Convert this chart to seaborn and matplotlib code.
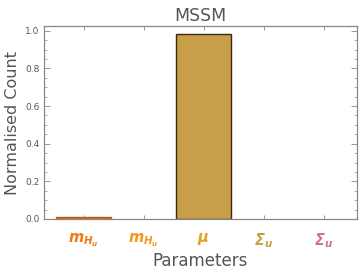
import matplotlib
matplotlib.use("Agg")
import matplotlib.pyplot as plt
import seaborn as sns
from matplotlib.ticker import MultipleLocator

sns.set_style("white")
plt.rcParams['font.family'] = ['DejaVu Sans']
plt.rcParams['mathtext.fontset'] = 'custom'
plt.rcParams['mathtext.it'] = 'DejaVu Sans:italic:bold'
plt.rcParams['mathtext.rm'] = 'DejaVu Sans:italic:bold'
plt.rcParams['mathtext.bf'] = 'DejaVu Sans:italic:bold'

# Data
bar_ids = ["p1", "p2", "p3", "p4", "p5"]
tick_labels = [r"$m_{H_u}$", r"$m_{H_u}$", r"$\mu$", r"$\Sigma_u$", r"$\Sigma_u$"]
values = [0.012, 0.0, 0.984, 0.0, 0.0]
bar_colors = ["#E8781A", "#F29A1E", "#C89E48", "#C8A050", "#D07080"]
edge_colors = ["#B85A08", "#B87010", "#3A2A10", "#8A6A30", "#905060"]
label_colors = ["#F07A12", "#F5981A", "#E2A420", "#C9A040", "#D07482"]

fig = plt.figure(figsize=(3.6, 2.72), dpi=100)
ax = fig.add_axes([0.122, 0.195, 0.870, 0.709])

sns.barplot(x=bar_ids, y=values, hue=bar_ids, palette=bar_colors,
            legend=False, width=0.92, ax=ax, saturation=1, linewidth=1.0)
for p, ec, v in zip(ax.patches, edge_colors, values):
    p.set_edgecolor(ec)
    if v == 0:
        p.set_linewidth(0)

ax.set_xlim(-0.66, 4.56)
ax.set_ylim(0, 1.025)
ax.yaxis.set_major_locator(MultipleLocator(0.2))
ax.yaxis.set_minor_locator(MultipleLocator(0.05))
ax.set_yticks([0, 0.2, 0.4, 0.6, 0.8, 1.0])
ax.set_yticklabels(["0.0", "0.2", "0.4", "0.6", "0.8", "1.0"])
ax.set_xticks(range(5))
ax.set_xticklabels(tick_labels, fontsize=10.5)
for t, c in zip(ax.get_xticklabels(), label_colors):
    t.set_color(c)

ax.tick_params(axis='y', which='major', direction='in', length=4, width=0.6,
               color='#888888', labelsize=6.5, labelcolor='#555566', left=True, right=True, pad=3)
ax.tick_params(axis='y', which='minor', direction='in', length=2, width=0.5,
               color='#888888', left=True, right=True)
ax.tick_params(axis='x', which='major', direction='in', length=3, width=0.6,
               color='#888888', bottom=True, top=True, pad=9)

for s in ax.spines.values():
    s.set_visible(True)
    s.set_color('#888888')
    s.set_linewidth(0.9)

ax.set_title("MSSM", fontsize=12.5, color='#555555', pad=4)
ax.set_ylabel("Normalised Count", fontsize=11.5, color='#555555', labelpad=4)
ax.set_xlabel("Parameters", fontsize=12, color='#555555', labelpad=1)

fig.savefig("out.png", dpi=100)
